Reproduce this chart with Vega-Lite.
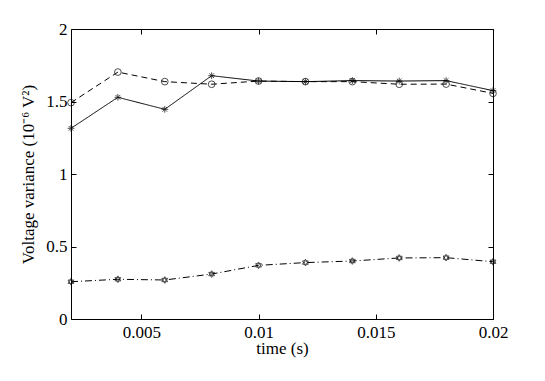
{
  "$schema": "https://vega.github.io/schema/vega-lite/v6.json",
  "width": 422,
  "height": 290,
  "autosize": "none",
  "padding": {"left": 71, "top": 29, "right": 52, "bottom": 62},
  "background": "white",
  "config": {
    "view": {"stroke": "black", "strokeWidth": 1},
    "font": "Liberation Serif",
    "axis": {
      "domain": false,
      "grid": false,
      "tickColor": "black",
      "tickSize": -5,
      "tickWidth": 1,
      "labelFlush": false,
      "labelOverlap": false,
      "labelColor": "black",
      "labelFont": "Liberation Serif",
      "labelFontSize": 17,
      "titleFont": "Liberation Serif",
      "titleFontSize": 17,
      "titleFontWeight": "normal",
      "titleColor": "black"
    }
  },
  "data": {
    "values": [
      {"t": 0.002, "v": 1.315, "s": "A"},
      {"t": 0.004, "v": 1.529, "s": "A"},
      {"t": 0.006, "v": 1.446, "s": "A"},
      {"t": 0.008, "v": 1.678, "s": "A"},
      {"t": 0.010, "v": 1.641, "s": "A"},
      {"t": 0.012, "v": 1.637, "s": "A"},
      {"t": 0.014, "v": 1.644, "s": "A"},
      {"t": 0.016, "v": 1.641, "s": "A"},
      {"t": 0.018, "v": 1.644, "s": "A"},
      {"t": 0.020, "v": 1.575, "s": "A"},
      {"t": 0.002, "v": 1.492, "s": "B"},
      {"t": 0.004, "v": 1.703, "s": "B"},
      {"t": 0.006, "v": 1.637, "s": "B"},
      {"t": 0.008, "v": 1.619, "s": "B"},
      {"t": 0.010, "v": 1.641, "s": "B"},
      {"t": 0.012, "v": 1.637, "s": "B"},
      {"t": 0.014, "v": 1.637, "s": "B"},
      {"t": 0.016, "v": 1.619, "s": "B"},
      {"t": 0.018, "v": 1.620, "s": "B"},
      {"t": 0.020, "v": 1.556, "s": "B"},
      {"t": 0.002, "v": 0.257, "s": "C"},
      {"t": 0.004, "v": 0.274, "s": "C"},
      {"t": 0.006, "v": 0.269, "s": "C"},
      {"t": 0.008, "v": 0.310, "s": "C"},
      {"t": 0.010, "v": 0.370, "s": "C"},
      {"t": 0.012, "v": 0.389, "s": "C"},
      {"t": 0.014, "v": 0.400, "s": "C"},
      {"t": 0.016, "v": 0.421, "s": "C"},
      {"t": 0.018, "v": 0.423, "s": "C"},
      {"t": 0.020, "v": 0.395, "s": "C"}
    ]
  },
  "layer": [
    {
      "mark": {"type": "line", "color": "black", "strokeWidth": 1},
      "encoding": {
        "x": {"field": "t", "type": "quantitative", "scale": {"domain": [0.002, 0.02], "nice": false, "zero": false},
              "axis": {"values": [0.005, 0.01, 0.015, 0.02], "format": "~g", "title": "time (s)", "labelPadding": 10, "titlePadding": 0}},
        "y": {"field": "v", "type": "quantitative", "scale": {"domain": [0, 2], "nice": false},
              "axis": {"values": [0, 0.5, 1, 1.5, 2], "format": "~g", "title": "Voltage variance (10⁻⁶ V²)", "labelPadding": 9, "titlePadding": 8}},
        "strokeDash": {"field": "s", "type": "nominal", "legend": null,
                       "scale": {"domain": ["A", "B", "C"], "range": [[1, 0], [6, 4], [7, 3, 1, 3]]}}
      }
    },
    {
      "mark": {"type": "point", "filled": false, "color": "black", "strokeWidth": 1, "size": 45},
      "encoding": {
        "x": {"field": "t", "type": "quantitative", "axis": {"orient": "top", "values": [0.005, 0.01, 0.015, 0.02], "labels": false, "title": null}},
        "y": {"field": "v", "type": "quantitative", "axis": {"orient": "right", "values": [0, 0.5, 1, 1.5, 2], "labels": false, "title": null}},
        "shape": {"field": "s", "type": "nominal", "legend": null,
                  "scale": {"domain": ["A", "B", "C"], "range": [
                    "M-1,0L1,0M0,-1L0,1M-0.7,-0.7L0.7,0.7M-0.7,0.7L0.7,-0.7",
                    "circle",
                    "M0,-1L0.866,0.5L-0.866,0.5ZM0,1L0.866,-0.5L-0.866,-0.5Z"
                  ]}}
      }
    }
  ],
  "resolve": {"axis": {"x": "independent", "y": "independent"}}
}
